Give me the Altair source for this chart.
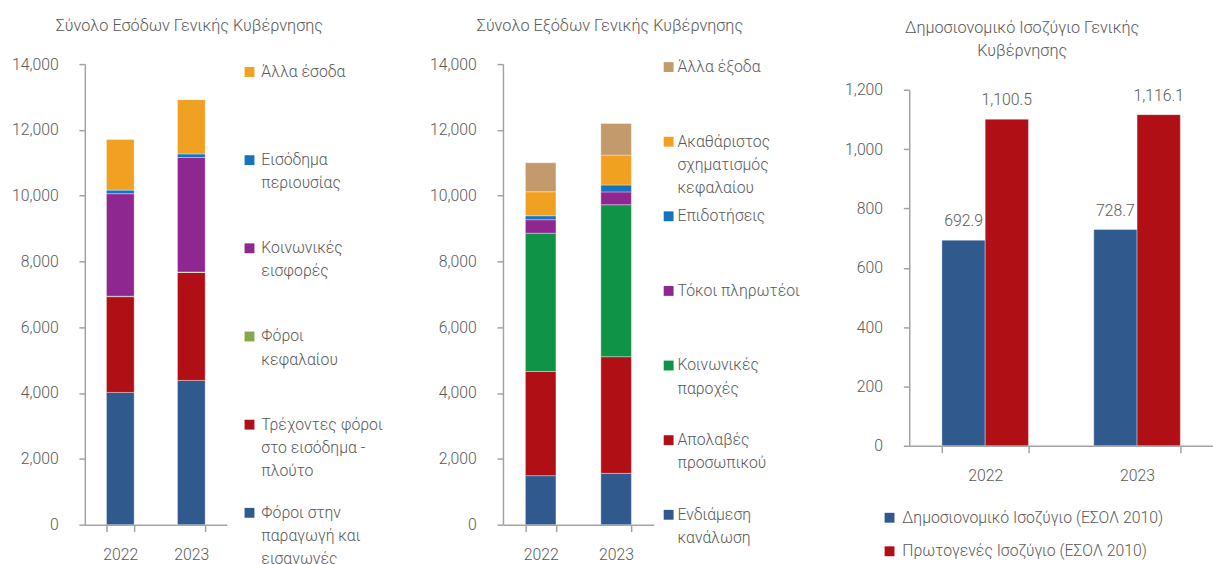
import altair as alt
import pandas as pd

FONT = "Roboto"
WEIGHT = 300
TEXT = "#595959"
AXIS = "#a3a3a3"

years = ["2022", "2023"]

# General government revenue, listed from the bottom of the stack upward
rev_cats = [
    "Φόροι στην παραγωγή και εισαγωγές",
    "Τρέχοντες φόροι στο εισόδημα - πλούτο",
    "Φόροι κεφαλαίου",
    "Κοινωνικές εισφορές",
    "Εισόδημα περιουσίας",
    "Άλλα έσοδα",
]
rev_labels = [
    "Φόροι στην\nπαραγωγή και\nεισαγωγές",
    "Τρέχοντες φόροι\nστο εισόδημα  -\nπλούτο",
    "Φόροι\nκεφαλαίου",
    "Κοινωνικές\nεισφορές",
    "Εισόδημα\nπεριουσίας",
    "Άλλα έσοδα",
]
rev_colors = ["#305a8d", "#b10f16", "#89a54e", "#8e278f", "#1674bf", "#f0a122"]
rev_2022 = [4020, 2910, 15, 3115, 110, 1540]
rev_2023 = [4385, 3280, 15, 3480, 110, 1650]

# General government expenditure, listed from the bottom of the stack upward
exp_cats = [
    "Ενδιάμεση κανάλωση",
    "Απολαβές προσωπικού",
    "Κοινωνικές παροχές",
    "Τόκοι πληρωτέοι",
    "Επιδοτήσεις",
    "Ακαθάριστος σχηματισμός κεφαλαίου",
    "Άλλα έξοδα",
]
exp_labels = [
    "Ενδιάμεση\nκανάλωση",
    "Απολαβές\nπροσωπικού",
    "Κοινωνικές\nπαροχές",
    "Τόκοι πληρωτέοι",
    "Επιδοτήσεις",
    "Ακαθάριστος\nσχηματισμός\nκεφαλαίου",
    "Άλλα έξοδα",
]
exp_colors = ["#305a8d", "#b10f16", "#0f9447", "#8e278f", "#1674bf", "#f0a122", "#c39a6b"]
exp_2022 = [1490, 3165, 4205, 410, 120, 730, 880]
exp_2023 = [1560, 3545, 4620, 390, 210, 910, 960]

# Fiscal and primary balance
bal_series = ["Δημοσιονομικό Ισοζύγιο (ΕΣΟΛ 2010)", "Πρωτογενές Ισοζύγιο (ΕΣΟΛ 2010)"]
bal_colors = ["#305a8d", "#b10f16"]
bal_2022 = [692.9, 1100.5]
bal_2023 = [728.7, 1116.1]

rev_ticks = list(range(0, 14001, 2000))
bal_ticks = list(range(0, 1201, 200))


def stack_frame(cats, v22, v23):
    rows = []
    for year, vals in zip(years, [v22, v23]):
        for i, (c, v) in enumerate(zip(cats, vals)):
            rows.append({"year": year, "cat": c, "value": v, "ord": i})
    return pd.DataFrame(rows)


def x_axis(pad):
    return alt.Axis(
        title=None, labelAngle=0, tickBand="extent", domainColor=AXIS, domainWidth=1.5,
        tickColor=AXIS, tickWidth=1.5, tickSize=7, labelPadding=pad, grid=False,
        labelFontSize=16, labelColor=TEXT, labelFont=FONT, labelFontWeight=WEIGHT,
    )


def y_axis(values):
    return alt.Axis(
        title=None, values=values, format=",.0f", grid=False, domainColor=AXIS,
        domainWidth=1.5, tickColor=AXIS, tickWidth=1.5, tickSize=6, labelPadding=21,
        labelFontSize=16, labelColor=TEXT, labelFont=FONT, labelFontWeight=WEIGHT,
    )


def title(text, dx, offset):
    return alt.Title(text, anchor="middle", dx=dx, offset=offset, lineHeight=23,
                     fontSize=16.5, font=FONT, fontWeight=WEIGHT, color=TEXT)


def stacked_plot(title_text, title_dx, cats, colors, v22, v23, width, pad_inner):
    df = stack_frame(cats, v22, v23)
    return alt.Chart(df).mark_bar(stroke="white", strokeWidth=0.6, strokeOpacity=0.6).encode(
        x=alt.X("year:N", sort=years,
                scale=alt.Scale(paddingInner=pad_inner, paddingOuter=pad_inner / 2),
                axis=x_axis(15)),
        y=alt.Y("value:Q", stack="zero", scale=alt.Scale(domain=[0, 14000]), axis=y_axis(rev_ticks)),
        color=alt.Color("cat:N", scale=alt.Scale(domain=cats, range=colors), legend=None),
        order=alt.Order("ord:Q"),
    ).properties(width=width, height=467, title=title(title_text, title_dx, 22))


def legend_panel(cats, labels, colors, width, leg_range, sq_x, txt_x):
    # Legend column: one swatch and a wrapped label per component, top item first
    leg = pd.DataFrame({"cat": cats, "label": labels})
    leg_y = alt.Y("cat:N", sort=list(reversed(cats)),
                  scale=alt.Scale(type="point", range=leg_range, padding=0), axis=None)
    squares = alt.Chart(leg).mark_square(size=100, opacity=1).encode(
        x=alt.value(sq_x), y=leg_y,
        color=alt.Color("cat:N", scale=alt.Scale(domain=cats, range=colors), legend=None),
    )
    texts = alt.Chart(leg).mark_text(
        align="left", baseline="top", dy=-8, lineBreak="\n", lineHeight=23.5,
        fontSize=16, font=FONT, fontWeight=WEIGHT, color=TEXT,
    ).encode(x=alt.value(txt_x), y=leg_y, text="label:N")
    return alt.layer(squares, texts).properties(width=width, height=467)


revenue = stacked_plot("Σύνολο Εσόδων Γενικής Κυβέρνησης", 34, rev_cats, rev_colors,
                       rev_2022, rev_2023, 144, 0.61)
revenue_legend = legend_panel(rev_cats, rev_labels, rev_colors, 276, [8, 455], 21, 33)

expenditure = stacked_plot("Σύνολο Εξόδων Γενικής Κυβέρνησης", 32, exp_cats, exp_colors,
                           exp_2022, exp_2023, 153, 0.595)
expenditure_legend = legend_panel(exp_cats, exp_labels, exp_colors, 255, [3, 457], 13, 22)

bal_rows = []
for year, vals in zip(years, [bal_2022, bal_2023]):
    for s, v in zip(bal_series, vals):
        bal_rows.append({"year": year, "series": s, "value": v})
bal_df = pd.DataFrame(bal_rows)

bx = alt.X("year:N", sort=years,
           scale=alt.Scale(range=[0, 308], paddingInner=0.43, paddingOuter=0.215),
           axis=x_axis(15))
by = alt.Y("value:Q", scale=alt.Scale(domain=[0, 1200], range=[387, 26]), axis=y_axis(bal_ticks))
boff = alt.XOffset("series:N", sort=bal_series)

bal_bars = alt.Chart(bal_df).mark_bar(stroke="white", strokeWidth=0.6, strokeOpacity=0.6).encode(
    x=bx, y=by, xOffset=boff,
    color=alt.Color(
        "series:N", sort=bal_series,
        scale=alt.Scale(domain=bal_series, range=bal_colors),
        legend=alt.Legend(
            title=None, orient="none", legendX=-28, legendY=452, direction="vertical",
            symbolType="square", symbolSize=100, symbolStrokeWidth=0, labelFontSize=16,
            labelFont=FONT, labelFontWeight=WEIGHT, labelColor=TEXT, labelLimit=400,
            rowPadding=18, labelOffset=5, padding=0,
        ),
    ),
)
bal_text = alt.Chart(bal_df).mark_text(
    baseline="alphabetic", dy=-14, fontSize=16, font=FONT, fontWeight=WEIGHT, color=TEXT,
).encode(x=bx, y=by, xOffset=boff, text=alt.Text("value:Q", format=",.1f"))

balance = alt.layer(bal_bars, bal_text).properties(
    width=301, height=387,
    title=title(["Δημοσιονομικό Ισοζύγιο Γενικής", "Κυβέρνησης"], -36, 5),
)

chart = alt.hconcat(
    revenue, revenue_legend, expenditure, expenditure_legend, balance,
    spacing=2, bounds="flush",
).resolve_scale(color="independent").properties(
    padding={"left": 11, "top": 14, "right": 0, "bottom": 0},
    background="white",
).configure(font=FONT).configure_view(stroke=None)

chart.save("out.html", embed_options={"renderer": "svg", "actions": False})
